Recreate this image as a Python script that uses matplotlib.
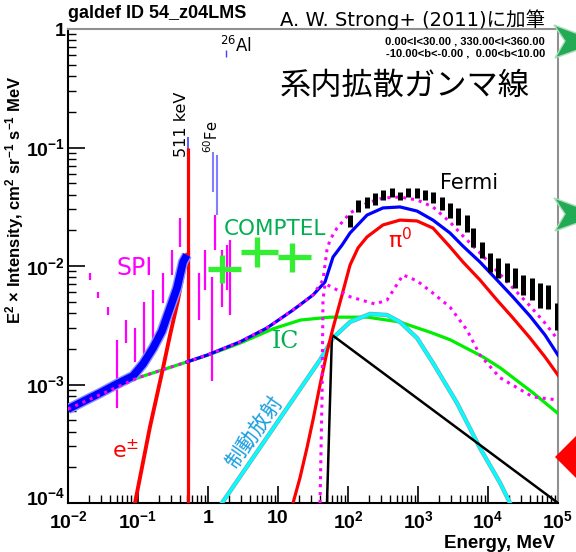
import matplotlib
matplotlib.use("Agg")
import matplotlib.pyplot as plt
import matplotlib.patheffects as pe
import matplotlib.transforms as mtransforms
from matplotlib.patches import Polygon
from matplotlib.ticker import LogLocator, NullFormatter

plt.rcParams['font.family'] = ['Liberation Sans', 'DejaVu Sans', 'Noto Sans CJK JP']
plt.rcParams['mathtext.default'] = 'regular'

# ---------------- data ----------------
x_ticks = [1e-2, 1e-1, 1, 10, 1e2, 1e3, 1e4, 1e5]
x_tick_labels = ["10$^{-2}$", "10$^{-1}$", "1", "10", "10$^{2}$", "10$^{3}$", "10$^{4}$", "10$^{5}$"]
y_ticks = [1e-4, 1e-3, 1e-2, 1e-1, 1]
y_tick_labels = ["10$^{-4}$", "10$^{-3}$", "10$^{-2}$", "10$^{-1}$", "1"]

# inverse Compton (green)
ic_E = [0.01, 0.1, 0.5, 1.0, 2.9, 8.5, 21, 55, 190, 550, 1600, 2900, 8500, 15000, 44000, 1e5]
ic_val = [0.00062, 0.00114, 0.00155, 0.00177, 0.00224, 0.00295, 0.0035, 0.0037, 0.0037,
          0.00337, 0.00272, 0.00238, 0.00171, 0.00138, 0.00085, 0.00057]

# total incl. positronium (thick blue, low energy)
blue_low_E = [0.01, 0.0206, 0.0287, 0.0501, 0.085, 0.118, 0.164, 0.22, 0.287, 0.361, 0.44, 0.5]
blue_low_val = [0.00062, 0.000769, 0.000848, 0.00101, 0.00118, 0.00149, 0.00203, 0.00283,
                0.00442, 0.00652, 0.0108, 0.0124]

# total model (thin blue)
blue_E = [0.5, 0.968, 2.87, 6.96, 16.4, 31.6, 46.9, 61.1, 82.1, 107, 187, 316, 553, 968,
          1637, 2864, 4395, 7685, 13450, 22750, 39810, 65160, 1e5]
blue_val = [0.00155, 0.00177, 0.00229, 0.0030, 0.00425, 0.00569, 0.00733, 0.0119, 0.0150,
            0.0190, 0.0269, 0.0309, 0.0315, 0.0291, 0.0244, 0.0190, 0.0147, 0.0108,
            0.00762, 0.00547, 0.00378, 0.00262, 0.00177]

# total model (magenta dotted, upper)
tot_E = [0.01, 0.1, 0.5, 0.968, 2.87, 6.96, 16.4, 31.6, 43.9, 50, 55.3, 69.6, 107, 187, 316,
         553, 968, 1637, 2864, 4395, 7685, 13450, 22750, 39810, 65160, 1e5]
tot_val = [0.00062, 0.00114, 0.00155, 0.00177, 0.00229, 0.0030, 0.00425, 0.00569, 0.00762,
           0.0136, 0.0166, 0.0209, 0.0280, 0.0340, 0.0375, 0.0382, 0.0361, 0.0315, 0.0235,
           0.0179, 0.0129, 0.00908, 0.00652, 0.0046, 0.0033, 0.00238]

# second magenta dotted component
dot2_E = [39.8, 42.5, 43.9, 46.9, 107, 243, 361, 611, 968, 1637, 2864, 5012, 7685, 14850,
          43950, 1e5]
dot2_val = [0.0001, 0.00074, 0.00516, 0.0071, 0.0055, 0.00478, 0.00516, 0.0084, 0.0075,
            0.0059, 0.0045, 0.00288, 0.00177, 0.00114, 0.000785, 0.00074]

# pi0 decay (red)
pi0_E = [16.4, 20.6, 25.9, 31.6, 39.8, 50.1, 61.1, 82.1, 107, 139, 187, 316, 553, 968, 1637,
         2864, 4395, 7685, 13450, 22750, 39810, 65160, 1e5]
pi0_val = [0.0001, 0.000163, 0.000291, 0.000501, 0.00099, 0.00188, 0.0030, 0.00569, 0.0102,
           0.0142, 0.0176, 0.0222, 0.0244, 0.0240, 0.0209, 0.0145, 0.0108, 0.00762, 0.00516,
           0.00364, 0.00247, 0.00171, 0.0012]

# bremsstrahlung (cyan)
brems_E = [1.585, 39.8, 61.1, 107, 206, 361, 553, 968, 1637, 3606, 7685, 14850, 20610]
brems_val = [0.0001, 0.00161, 0.00247, 0.00337, 0.00394, 0.00386, 0.00337, 0.00247, 0.00152,
             0.000698, 0.000291, 0.000148, 0.0001]

# black component
black_E = [50.1, 59.0, 1e5]
black_val = [0.0001, 0.00262, 0.0001]

# e+- (red, low energy)
epm_E = [0.0906, 0.148, 0.228, 0.287, 0.373, 0.469, 0.501]
epm_val = [0.0001, 0.000437, 0.00138, 0.00262, 0.00516, 0.0106, 0.0124]

# gamma lines
line511_E = 0.511
line511_red = [0.0001, 0.099]
line511_blue = [0.0124, 0.123]
fe60_E = [1.173, 1.332]
fe60_lo = [0.042, 0.027]
fe60_hi = [0.092, 0.087]
al26_E = 1.809
al26_lo, al26_hi = 0.58, 0.66

# SPI data (magenta bars)
spi_E = [0.0206, 0.0268, 0.0373, 0.0501, 0.0674, 0.0906, 0.122, 0.164, 0.228, 0.306, 0.398,
         0.535, 0.743, 0.906, 1.14, 1.26, 1.58, 1.87, 2.06]
spi_hi = [0.00873, 0.00604, 0.00451, 0.00238, 0.0035, 0.0030, 0.00497, 0.00627, 0.00873,
          0.01365, 0.0254, 0.0142, 0.00873, 0.01365, 0.00807, 0.0269, 0.01365, 0.0150, 0.0166]
spi_lo = [0.00762, 0.00537, 0.00386, 0.000634, 0.00224, 0.00155, 0.00167, 0.00224, 0.00487,
          0.0084, 0.0145, 0.00032, 0.0035, 0.00627, 0.00107, 0.01365, 0.00451, 0.00627, 0.00386]

# COMPTEL (green crosses)
comptel_E = [1.6, 5.0, 16.0]
comptel_Elo = [1.0, 3.0, 10.0]
comptel_Ehi = [3.0, 10.0, 30.0]
comptel_val = [0.0094, 0.0131, 0.0119]
comptel_lo = [0.0072, 0.0098, 0.0089]
comptel_hi = [0.0124, 0.0176, 0.0156]

# Fermi-LAT (black bars)
fermi_E = [107, 139, 187, 243, 316, 425, 553, 719, 968, 1259, 1637, 2203, 2864, 3725, 5012,
           6109, 8210, 10680, 13900, 18660, 24300, 31600, 42500, 55300, 71900, 96800]
fermi_hi = [0.0269, 0.0361, 0.0382, 0.0413, 0.0438, 0.0455, 0.0421, 0.0455, 0.0455, 0.0438,
            0.0421, 0.0382, 0.0340, 0.0309, 0.0269, 0.0209, 0.0160, 0.0129, 0.0117, 0.0106,
            0.0096, 0.0084, 0.0079, 0.0072, 0.0069, 0.0049]
fermi_lo = [0.0213, 0.0286, 0.0309, 0.0327, 0.0361, 0.0382, 0.0361, 0.0382, 0.0375, 0.0361,
            0.0340, 0.0297, 0.0254, 0.0222, 0.0194, 0.0145, 0.0117, 0.0089, 0.0079, 0.0073,
            0.0065, 0.0057, 0.0052, 0.0044, 0.0043, 0.0029]

# ---------------- figure ----------------
W, H = 576, 552
fig = plt.figure(figsize=(W / 100, H / 100), dpi=100)
ax = fig.add_axes([68 / W, 49 / H, 490 / W, 474 / H])
ax.set_xscale('log')
ax.set_yscale('log')
ax.set_xlim(1e-2, 1e5)
ax.set_ylim(1e-4, 1)


def ptxt(x, y, s, **kw):
    return fig.text(x / W, 1 - y / H, s, **kw)


MAG = '#ff00ff'
DOT = (0, (1, 1.6))
# SPI bars (behind)
ax.vlines(spi_E, spi_lo, spi_hi, color=MAG, lw=1.6, zorder=2)

# model curves
ax.plot(ic_E, ic_val, color='#00ee00', lw=2.3, zorder=3)
ax.plot(brems_E, brems_val, color='#00ffff', lw=2.2, zorder=3,
        path_effects=[pe.Stroke(linewidth=3.2, foreground='#80a8b8'), pe.Normal()])
ax.plot(black_E, black_val, color='black', lw=1.8, zorder=3)
ax.plot(pi0_E, pi0_val, color='#ff0000', lw=2.3, zorder=3)
ax.plot(epm_E, epm_val, color='#ff0000', lw=2.8, zorder=3)
ax.vlines([line511_E], line511_blue[0], line511_blue[1], color='#4040ff', lw=1.2, zorder=3)
ax.vlines([line511_E], line511_red[0], line511_red[1], color='#ff0000', lw=2.3, zorder=4)
ax.vlines(fe60_E, fe60_lo, fe60_hi, color='#7f7fff', lw=1.5, zorder=3)
ax.vlines([al26_E], al26_lo, al26_hi, color='#4040ff', lw=1, zorder=3)
ax.plot(blue_low_E, blue_low_val, color='#0000ff', lw=5.5, zorder=5, solid_capstyle='butt',
        path_effects=[pe.Stroke(linewidth=7.5, foreground='#9090ff'), pe.Normal()])
ax.plot(blue_E, blue_val, color='#0000ff', lw=2.3, zorder=5)
ax.plot(tot_E, tot_val, color=MAG, lw=2.2, ls=DOT, zorder=6)
ax.plot(dot2_E, dot2_val, color=MAG, lw=2.2, ls=DOT, zorder=6)

# COMPTEL crosses
for e, elo, ehi, v, vlo, vhi in zip(comptel_E, comptel_Elo, comptel_Ehi, comptel_val,
                                    comptel_lo, comptel_hi):
    ax.plot([elo, ehi], [v, v], color='#33ee33', lw=3.8, zorder=7, solid_capstyle='butt')
    ax.plot([e, e], [vlo, vhi], color='#33ee33', lw=3.8, zorder=7, solid_capstyle='butt')

# Fermi bars
ax.vlines(fermi_E, fermi_lo, fermi_hi, color='black', lw=3.6, zorder=8)

# axes styling
for s in ['left', 'bottom']:
    ax.spines[s].set_color('black')
    ax.spines[s].set_linewidth(1.5)
for s in ['top', 'right']:
    ax.spines[s].set_color('#909090')
    ax.spines[s].set_linewidth(1.5)
ax.set_xticks(x_ticks)
ax.set_xticklabels(x_tick_labels, fontweight='bold', fontsize=14)
ax.set_yticks(y_ticks)
ax.set_yticklabels(y_tick_labels, fontweight='bold', fontsize=14)
ax.xaxis.set_minor_locator(LogLocator(base=10, subs=range(2, 10), numticks=20))
ax.yaxis.set_minor_locator(LogLocator(base=10, subs=range(2, 10), numticks=20))
ax.xaxis.set_minor_formatter(NullFormatter())
ax.yaxis.set_minor_formatter(NullFormatter())
ax.tick_params(which='major', direction='in', length=12, width=1.2, top=False, right=False)
ax.tick_params(which='minor', direction='in', length=6, width=1.0, top=False, right=False)
ax.tick_params(axis='x', which='major', pad=5)
ax.tick_params(axis='y', which='major', pad=2)
# lift the lowest y label a little (as in the reference) so it clears the x labels
low = ax.yaxis.get_major_ticks()[0].label1
low.set_transform(low.get_transform() +
                  mtransforms.ScaledTranslation(0, 7 / 100, fig.dpi_scale_trans))

# axis titles
ptxt(555, 543, 'Energy, MeV', ha='right', va='center', fontsize=13.5, fontweight='bold')
ptxt(15, 200, 'E$^{2}$ × Intensity, cm$^{2}$ sr$^{-1}$ s$^{-1}$ MeV', rotation=90,
     ha='center', va='center', fontsize=12, fontweight='bold')

# header texts
ptxt(68, 14, 'galdef ID 54_z04LMS', ha='left', va='center', fontsize=13, fontweight='bold')
ptxt(280, 20, 'A. W. Strong+ (2011)に加筆', ha='left', va='center', fontsize=14,
     family=['DejaVu Sans', 'Noto Sans CJK JP'])
ptxt(545, 42, '0.00<l<30.00 , 330.00<l<360.00', ha='right', va='center', fontsize=8,
     fontweight='bold')
ptxt(545, 53, '-10.00<b<-0.00 ,  0.00<b<10.00', ha='right', va='center', fontsize=8,
     fontweight='bold')
ptxt(280, 86, '系内拡散ガンマ線', ha='left', va='center', fontsize=22.5,
     family=['Noto Sans CJK JP'])
ptxt(220, 46, '$^{26}$Al', ha='left', va='center', fontsize=12,
     family=['DejaVu Sans'])
ptxt(182, 124, '511 keV', rotation=90, ha='center', va='center', fontsize=11.5,
     family=['DejaVu Sans'])
ptxt(212, 137, '$^{60}$Fe', rotation=90, ha='center', va='center', fontsize=10.5,
     family=['DejaVu Sans'])

# component labels
ptxt(440, 183, 'Fermi', ha='left', va='center', fontsize=15, family=['DejaVu Sans'])
ptxt(224, 229, 'COMPTEL', ha='left', va='center', fontsize=15.5, color='#00b050',
     family=['DejaVu Sans'])
ptxt(116, 268, 'SPI', ha='left', va='center', fontsize=17, color=MAG, family=['DejaVu Sans'])
ptxt(388, 240, 'π$^{0}$', ha='left', va='center', fontsize=16, color='#ff0000',
     family=['DejaVu Sans'])
ptxt(272, 342, 'IC', ha='left', va='center', fontsize=17, color='#00b050',
     family=['DejaVu Serif'])
ptxt(112, 450, 'e$^{\\pm}$', ha='left', va='center', fontsize=16, color='#ff0000',
     family=['DejaVu Sans'])
ptxt(254, 432, '制動放射', rotation=55, ha='center', va='center', fontsize=15,
     color='#1a9fe0', family=['Noto Sans CJK JP'])

# slide decorations at right edge
def fpoly(pts, **kw):
    p = Polygon([(x / W, 1 - y / H) for x, y in pts], closed=True, transform=fig.transFigure,
                **kw)
    fig.patches.append(p)

fpoly([(554, 25), (600, 42), (555, 58), (565, 41)], facecolor='#22aa55', edgecolor='#aaddbb',
      lw=1)
fpoly([(554, 198), (600, 215), (555, 231), (565, 214)], facecolor='#22aa55',
      edgecolor='#aaddbb', lw=1)
fpoly([(555, 457), (576, 436), (597, 457), (576, 478)], facecolor='#ff0000', edgecolor='none')

fig.savefig('out.png', dpi=100)
